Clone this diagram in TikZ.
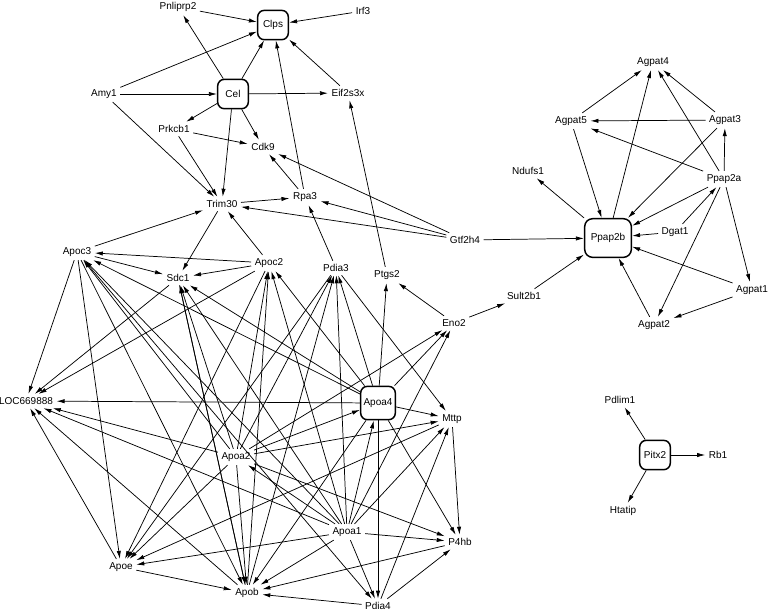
\documentclass[tikz,border=0pt]{standalone}
\usepackage{fontspec}
\setmainfont{Liberation Sans}
\usepackage{tikz}
\usetikzlibrary{arrows.meta}

\begin{document}
\begin{tikzpicture}[x=0.75pt,y=-0.75pt,
    every node/.style={font=\fontsize{7.5}{9}\selectfont,inner sep=2.5pt},
    gene/.style={},
    hub/.style={draw,line width=1.1pt,rounded corners=5pt,minimum width=23pt,minimum height=22pt,inner sep=1pt},
    edge/.style={-{Latex[length=6pt,width=3.2pt]},line width=0.55pt}]
      \useasboundingbox (0,0) rectangle (778,612);
      % top cluster
      \node[gene] (Pnliprp2) at (178,7) {Pnliprp2};
      \node[hub] (Clps) at (273,25) {Clps};
      \node[gene] (Irf3) at (363,11) {Irf3};
      \node[gene] (Amy1) at (104,94) {Amy1};
      \node[hub] (Cel) at (233,94) {Cel};
      \node[gene] (Eif2s3x) at (348,93) {Eif2s3x};
      \node[gene] (Prkcb1) at (174,129) {Prkcb1};
      \node[gene] (Cdk9) at (263,147) {Cdk9};
      \node[gene] (Trim30) at (222,204) {Trim30};
      \node[gene] (Rpa3) at (305,197) {Rpa3};
      \node[gene] (Gtf2h4) at (465,240) {Gtf2h4};
      % apolipoprotein cluster
      \node[gene] (Apoc3) at (77,252) {Apoc3};
      \node[gene] (Apoc2) at (269,263) {Apoc2};
      \node[gene] (Sdc1) at (178,278) {Sdc1};
      \node[gene] (Pdia3) at (336,268) {Pdia3};
      \node[gene] (Ptgs2) at (387,275) {Ptgs2};
      \node[gene] (Eno2) at (454,323) {Eno2};
      \node[gene] (Sult2b1) at (524,296) {Sult2b1};
      \node[gene] (LOC669888) at (26,401) {LOC669888};
      \node[hub,minimum width=26pt,minimum height=25pt] (Apoa4) at (378,403) {Apoa4};
      \node[gene] (Mttp) at (452,419) {Mttp};
      \node[gene] (Apoa2) at (236,457) {Apoa2};
      \node[gene] (Apoa1) at (347,532) {Apoa1};
      \node[gene] (P4hb) at (460,542) {P4hb};
      \node[gene] (Apoe) at (121,567) {Apoe};
      \node[gene] (Apob) at (247,593) {Apob};
      \node[gene] (Pdia4) at (378,606) {Pdia4};
      % Ppap2b cluster
      \node[hub,minimum width=35pt,minimum height=29pt,rounded corners=6pt] (Ppap2b) at (608,238) {Ppap2b};
      \node[gene] (Ndufs1) at (528,171) {Ndufs1};
      \node[gene] (Agpat5) at (571,121) {Agpat5};
      \node[gene] (Agpat4) at (653,62) {Agpat4};
      \node[gene] (Agpat3) at (725,120) {Agpat3};
      \node[gene] (Ppap2a) at (724,179) {Ppap2a};
      \node[gene] (Dgat1) at (675,232) {Dgat1};
      \node[gene] (Agpat1) at (752,290) {Agpat1};
      \node[gene] (Agpat2) at (654,325) {Agpat2};
      % Pitx2 cluster
      \node[gene] (Pdlim1) at (620,400) {Pdlim1};
      \node[hub] (Pitx2) at (655,455) {Pitx2};
      \node[gene] (Rb1) at (718,455) {Rb1};
      \node[gene] (Htatip) at (623,511) {Htatip};
      % interactions
      \foreach \x/\y in {Pnliprp2/Clps,Irf3/Clps,Amy1/Clps,Amy1/Cel,Amy1/Trim30,Cel/Pnliprp2,Cel/Clps,
        Cel/Eif2s3x,Cel/Prkcb1,Cel/Cdk9,Cel/Trim30,Eif2s3x/Clps,Rpa3/Clps,Prkcb1/Cdk9,Prkcb1/Trim30,
        Rpa3/Cdk9,Gtf2h4/Cdk9,Ptgs2/Eif2s3x,Trim30/Rpa3,Gtf2h4/Rpa3,Gtf2h4/Trim30,Pdia3/Rpa3,
        Apoc3/Trim30,Trim30/Sdc1,Apoc2/Trim30,Apoc2/Apoc3,Apoc3/Sdc1,Apoc2/Sdc1,Apoc3/LOC669888,
        Apoc2/LOC669888,Sdc1/LOC669888} \draw[edge] (\x)--(\y);
      \foreach \x/\y in {Apoa4/LOC669888,Apoa4/Apoc3,Apoa4/Sdc1,Apoa4/Apoc2,Apoa4/Pdia3,Apoa4/Ptgs2,
        Apoa4/Eno2,Apoa4/Mttp,Apoa4/P4hb,Apoa4/Pdia4,Apoa4/Apob,
        Apoa2/LOC669888,Apoa2/Apoa4,Apoa2/Mttp,Apoa2/Eno2,Apoa2/Apoe,Apoa2/Apob,Apoa2/P4hb,
        Apoa2/Sdc1,Apoa2/Apoc2,Apoa2/Pdia3,Apoa2/Apoc3,
        Apoa1/Apoa2,Apoa1/Apoa4,Apoa1/LOC669888,Apoa1/Apoe,Apoa1/Apob,Apoa1/Pdia4,Apoa1/P4hb,
        Apoa1/Mttp,Apoa1/Eno2,Apoa1/Pdia3,Apoa1/Apoc2,Apoa1/Sdc1,Apoa1/Apoc3,
        Apoe/LOC669888,Apoe/Apob,Apob/LOC669888,Apoc3/Apoe,Apoc3/Apob,Apoc3/Pdia4,
        Pdia4/Apob,Pdia4/P4hb,Pdia4/Mttp,Mttp/P4hb,P4hb/Apob,Pdia3/Mttp,Pdia3/Apoe,
        Apob/Sdc1,Apob/Apoc2,Apob/Pdia3,Apoc2/Apoe,Sdc1/Apob,Mttp/Apoe} \draw[edge] (\x)--(\y);
      \foreach \x/\y in {Gtf2h4/Ppap2b,Eno2/Sult2b1,Eno2/Ptgs2,Sult2b1/Ppap2b,Ppap2b/Ndufs1,
        Agpat5/Ppap2b,Ppap2b/Agpat4,Agpat3/Ppap2b,Ppap2a/Ppap2b,Dgat1/Ppap2b,Dgat1/Ppap2a,
        Agpat1/Ppap2b,Agpat2/Ppap2b,Ppap2a/Agpat2,Ppap2a/Agpat1,Agpat1/Agpat2,Ppap2a/Agpat3,
        Ppap2a/Agpat4,Ppap2a/Agpat5,Agpat3/Agpat4,Agpat3/Agpat5,Agpat5/Agpat4,
        Pitx2/Pdlim1,Pitx2/Rb1,Pitx2/Htatip} \draw[edge] (\x)--(\y);
    \end{tikzpicture}
\end{document}
